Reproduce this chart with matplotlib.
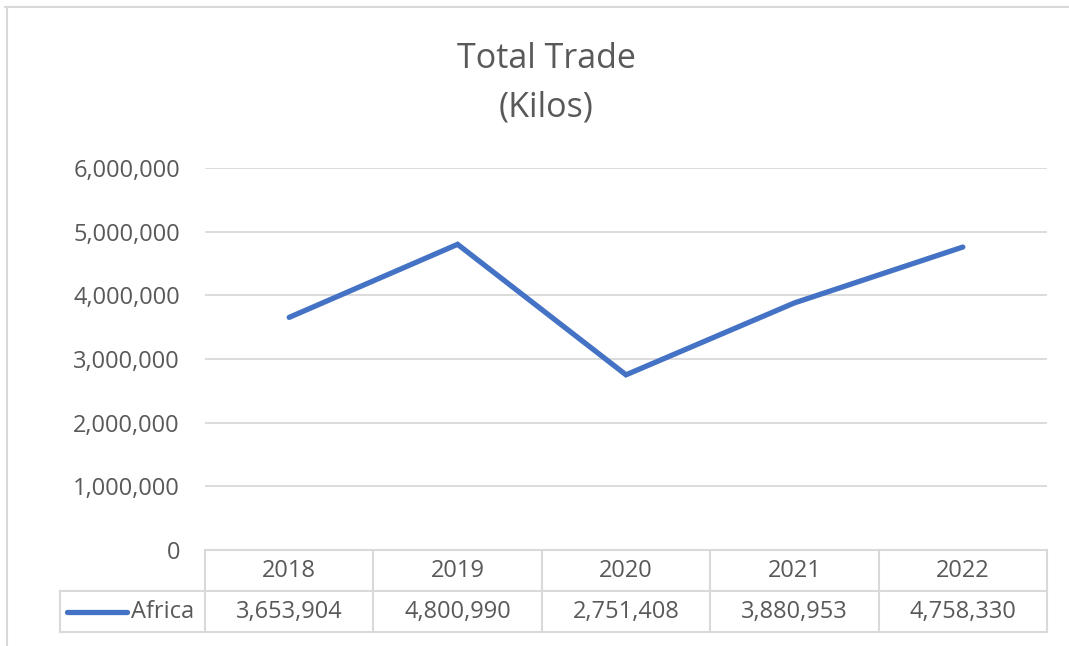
import matplotlib
matplotlib.use("Agg")
import matplotlib.pyplot as plt
from matplotlib.lines import Line2D
from matplotlib.ticker import FuncFormatter

# 데이터
years = ["2018", "2019", "2020", "2021", "2022"]
africa = [3653904, 4800990, 2751408, 3880953, 4758330]
series_name = "Africa"
y_ticks = [0, 1000000, 2000000, 3000000, 4000000, 5000000, 6000000]

W, H = 1069, 646
BLUE = "#4472C4"
GRID = "#D9D9D9"
TEXT = "#595959"
FONT = "Open Sans"
FS = 17

plt.rcParams["font.family"] = [FONT, "DejaVu Sans"]

fig = plt.figure(figsize=(W / 100, H / 100), dpi=100)


def px_box(x0, y0, x1, y1):
    """픽셀 좌표(위에서 아래) → figure 분수 [left, bottom, w, h]."""
    return [x0 / W, 1 - y1 / H, (x1 - x0) / W, (y1 - y0) / H]


# 바깥 테두리(위/왼쪽만 보임)
fig.add_artist(Line2D([5 / W, 1], [1 - 7 / H, 1 - 7 / H], color=GRID, lw=1.5))
fig.add_artist(Line2D([7 / W, 7 / W], [0, 1 - 7 / H], color=GRID, lw=1.5))

# 본 그래프
ax = fig.add_axes(px_box(205, 168, 1047, 550))
xs = list(range(len(years)))
ax.plot(xs, africa, color=BLUE, lw=3.8, solid_capstyle="round",
        solid_joinstyle="miter", zorder=3)
ax.set_xlim(-0.5, len(years) - 0.5)
ax.set_ylim(y_ticks[0], y_ticks[-1])
ax.set_yticks(y_ticks)
ax.yaxis.set_major_formatter(FuncFormatter(lambda v, _: f"{int(v):,}"))
ax.set_xticks([])
ax.grid(axis="y", color=GRID, lw=1.3)
for s in ax.spines.values():
    s.set_visible(False)
ax.tick_params(axis="y", length=0, pad=18, labelsize=FS, labelcolor=TEXT)

fig.text(546 / W, 1 - 59 / H, "Total Trade", ha="center", va="center",
         fontsize=24.5, color=TEXT)
fig.text(546 / W, 1 - 108 / H, "(Kilos)", ha="center", va="center",
         fontsize=24.5, color=TEXT)

# 데이터 표: 헤더 행(0~1) + 값 행(1~2), y는 아래로 증가
tab = fig.add_axes(px_box(205, 550, 1047, 632))
tab.set_xlim(-0.5, len(years) - 0.5)
tab.set_ylim(2, 0)
tab.axis("off")
legend_left = -0.5 - 145 / 168.4
kw = dict(color=GRID, lw=1.5, clip_on=False)
tab.plot([-0.5, len(years) - 0.5], [0, 0], **kw)
tab.plot([legend_left, len(years) - 0.5], [1, 1], **kw)
tab.plot([legend_left, len(years) - 0.5], [2, 2], **kw)
tab.plot([legend_left, legend_left], [1, 2], **kw)
for i in range(len(years) + 1):
    tab.plot([i - 0.5, i - 0.5], [0, 2], **kw)
for i, (yr, v) in enumerate(zip(years, africa)):
    tab.text(i, 0.52, yr, ha="center", va="center", fontsize=FS, color=TEXT)
    tab.text(i, 1.52, f"{v:,}", ha="center", va="center", fontsize=FS, color=TEXT)

# 범례 키
tab.plot([legend_left + 7 / 168.4, legend_left + 67 / 168.4], [1.5, 1.5],
         color=BLUE, lw=3.8, solid_capstyle="round", clip_on=False)
tab.text(legend_left + 71 / 168.4, 1.52, series_name, ha="left", va="center",
         fontsize=FS, color=TEXT)

fig.savefig("out.png", dpi=100, facecolor="white")
